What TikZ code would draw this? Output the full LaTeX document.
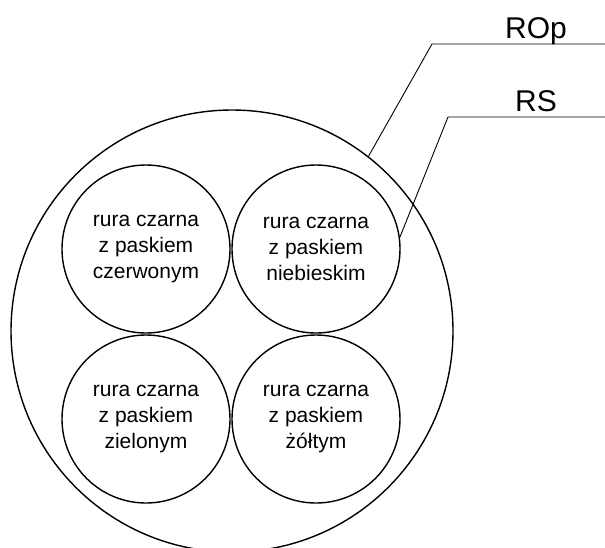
\documentclass[tikz,border=0pt]{standalone}
\usepackage{fontspec}
\setmainfont{Liberation Sans}
\begin{document}
\begin{tikzpicture}[x=1pt,y=-1pt,
  pipe/.style={circle,draw,line width=1.4pt,minimum size=168pt,inner sep=0pt,
    align=center,font=\fontsize{21}{26}\selectfont},
  sheath/.style={circle,draw,line width=1.4pt,minimum size=442pt,inner sep=0pt},
  leader/.style={draw,line width=0.9pt},
  tag/.style={anchor=base,inner sep=0pt,font=\fontsize{30}{36}\selectfont}]
\useasboundingbox (0,0) rectangle (605,547);
% outer protective pipe
\node[sheath] (cable) at (232,331) {};
% four inner pipes
\node[pipe] (tl) at (146,249) {rura czarna\\z paskiem\\czerwonym};
\node[pipe] (tr) at (316,249) {rura czarna\\z paskiem\\niebieskim};
\node[pipe] (bl) at (146,419) {rura czarna\\z paskiem\\zielonym};
\node[pipe] (br) at (316,419) {rura czarna\\z paskiem\\żółtym};
% leader lines and labels
\coordinate (ropknee) at (432,44);
\coordinate (ropend) at (605,44);
\coordinate (rsknee) at (448,117);
\coordinate (rsend) at (605,117);
\node[tag] (roplabel) at (536,38) {ROp};
\node[tag] (rslabel) at (536,111) {RS};
\draw[leader] (cable.52) -- (ropknee) -- (ropend);
\draw[leader] (tr.8) -- (rsknee) -- (rsend);
\end{tikzpicture}
\end{document}
